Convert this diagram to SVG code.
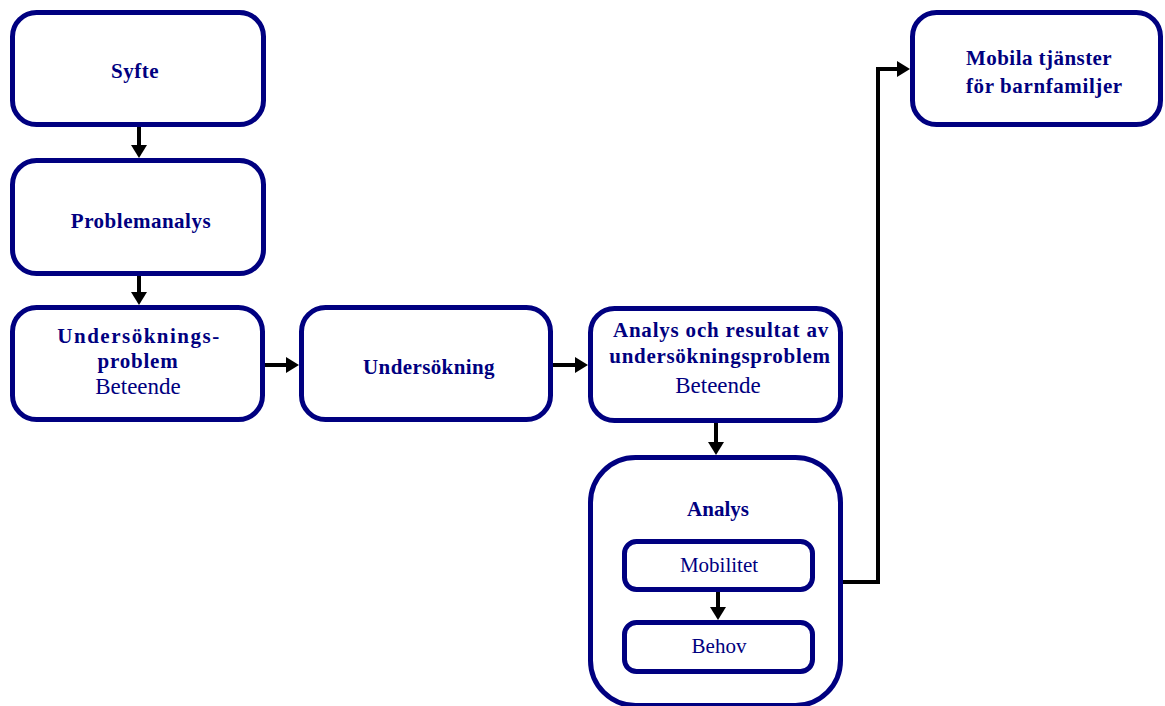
<svg xmlns="http://www.w3.org/2000/svg" width="1165" height="706" viewBox="0 0 1165 706">
<style>
.box{fill:#ffffff;stroke:#000080;stroke-width:5}
.t{font-family:"Liberation Serif","Times New Roman",serif;fill:#000080;text-anchor:middle}
.b{font-weight:bold;font-size:21px}
.r{font-size:21px}
.c{fill:none;stroke:#000000;stroke-width:4}
</style>
<defs>
<marker id="ah" viewBox="0 0 13 16" refX="1" refY="8" markerWidth="13" markerHeight="16" markerUnits="userSpaceOnUse" orient="auto">
<path d="M0,0 L13,8 L0,16 z" fill="#000000"/>
</marker>
</defs>
<rect width="1165" height="706" fill="#ffffff"/>
<g id="syfte">
<rect class="box" x="12.5" y="12.5" width="251" height="112" rx="24"/>
<text class="t b" x="135" y="78" letter-spacing="0.5">Syfte</text>
</g>
<g id="problemanalys">
<rect class="box" x="12.5" y="160.5" width="251" height="113" rx="24"/>
<text class="t b" x="141" y="228" letter-spacing="0.5">Problemanalys</text>
</g>
<g id="undersokningsproblem">
<rect class="box" x="12.5" y="307.5" width="250" height="112" rx="24"/>
<text class="t b" x="139" y="343" letter-spacing="1.5">Undersöknings-</text>
<text class="t b" x="138" y="368" letter-spacing="0.8">problem</text>
<text class="t r" x="138" y="394" style="font-size:23px">Beteende</text>
</g>
<g id="undersokning">
<rect class="box" x="301.5" y="307.5" width="249" height="112" rx="24"/>
<text class="t b" x="429" y="374" letter-spacing="0.4">Undersökning</text>
</g>
<g id="analys-resultat">
<rect class="box" x="590.5" y="308.5" width="250" height="112" rx="24"/>
<text class="t b" x="721" y="337" letter-spacing="0.8">Analys och resultat av</text>
<text class="t b" x="720" y="363" letter-spacing="0.7">undersökningsproblem</text>
<text class="t r" x="718" y="393" style="font-size:23px">Beteende</text>
</g>
<g id="analys">
<rect class="box" x="590.5" y="457.5" width="250" height="248" rx="45"/>
<text class="t b" x="718" y="516">Analys</text>
</g>
<g id="mobilitet">
<rect class="box" x="624.5" y="541.5" width="188" height="48" rx="12"/>
<text class="t r" x="719" y="572">Mobilitet</text>
</g>
<g id="behov">
<rect class="box" x="624.5" y="622.5" width="188" height="49" rx="12"/>
<text class="t r" x="719" y="653">Behov</text>
</g>
<g id="mobila-tjanster">
<rect class="box" x="912.5" y="12.5" width="248" height="112" rx="24"/>
<text class="t b" x="966" y="65" letter-spacing="0.45" style="text-anchor:start">Mobila tjänster</text>
<text class="t b" x="966" y="93" letter-spacing="0.6" style="text-anchor:start">för barnfamiljer</text>
</g>
<g id="connectors">
<line class="c" x1="139" y1="127" x2="139" y2="146" marker-end="url(#ah)"/>
<line class="c" x1="139" y1="276" x2="139" y2="293" marker-end="url(#ah)"/>
<line class="c" x1="265" y1="365" x2="287" y2="365" marker-end="url(#ah)"/>
<line class="c" x1="553" y1="365" x2="576" y2="365" marker-end="url(#ah)"/>
<line class="c" x1="716" y1="423" x2="716" y2="443" marker-end="url(#ah)"/>
<line class="c" x1="718" y1="592" x2="718" y2="608" marker-end="url(#ah)"/>
<polyline class="c" points="843,582 878,582 878,69 898,69" marker-end="url(#ah)"/>
</g>
</svg>
